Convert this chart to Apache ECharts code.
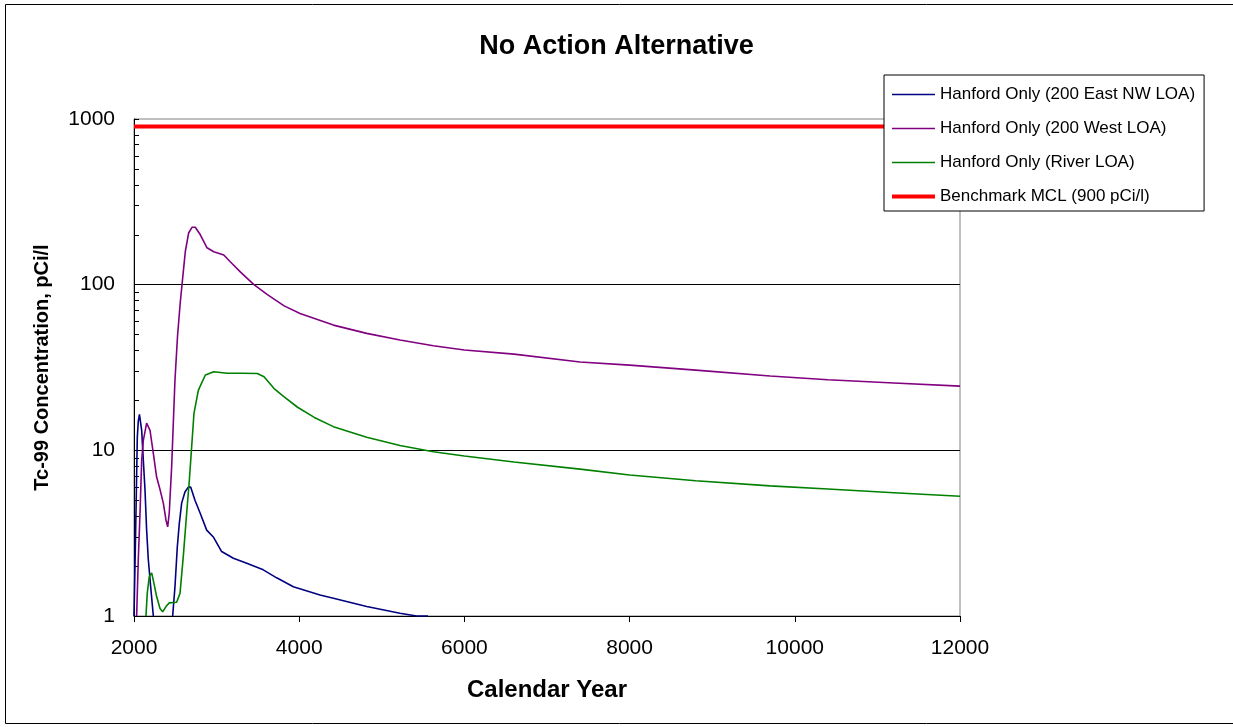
<!DOCTYPE html>
<html>
<head>
<meta charset="utf-8">
<script src="https://cdn.jsdelivr.net/npm/echarts@6/dist/echarts.min.js"></script>
<style>html,body{margin:0;padding:0;background:#fff;}#c{width:1233px;height:727px;}</style>
</head>
<body>
<div id="c"></div>
<script>
// ---- data ----
const seriesNames = ['Hanford Only (200 East NW LOA)', 'Hanford Only (200 West LOA)', 'Hanford Only (River LOA)', 'Benchmark MCL (900 pCi/l)'];

const eastYears = [2000, 2012, 2024, 2040, 2052, 2066, 2080, 2093, 2113, 2133, 2153, 2173, 2202, 2234, 2350, 2468, 2496, 2524, 2548, 2577, 2617, 2657, 2686, 2738, 2799, 2880, 2960, 3061, 3203, 3365, 3565, 3727, 3929, 4252, 4414, 4817, 5220, 5422, 5560];
const eastVals  = [1.0, 2.0, 4.2, 12, 15, 16.5, 16.5, 13.2, 8.7, 5.8, 3.3, 2.2, 1.5, 1.0, null, 1.0, 1.5, 2.6, 3.6, 4.8, 5.6, 6.0, 6.0, 5.0, 4.2, 3.3, 3.0, 2.45, 2.23, 2.08, 1.9, 1.7, 1.5, 1.34, 1.28, 1.14, 1.04, 1.0, 1.0];

const westYears = [2032, 2052, 2073, 2093, 2113, 2153, 2194, 2234, 2274, 2315, 2355, 2387, 2408, 2427, 2456, 2476, 2496, 2527, 2560, 2588, 2621, 2661, 2702, 2742, 2803, 2884, 2966, 3087, 3168, 3290, 3452, 3615, 3818, 4010, 4414, 4817, 5220, 5624, 6000, 6600, 7400, 8000, 8800, 9700, 10400, 11200, 12000];
const westVals  = [1.0, 2.2, 4.2, 8.7, 11.5, 14.6, 13.2, 9.6, 6.9, 5.8, 4.8, 3.8, 3.45, 4.2, 8.0, 14.6, 26.6, 49, 78, 108, 158, 205, 222, 222, 200, 167, 158, 151, 137, 119, 100, 87, 74.5, 67, 57, 50.8, 46.3, 42.8, 40.3, 38.1, 34.1, 32.7, 30.5, 28.1, 26.7, 25.5, 24.4];

const riverYears = [2145, 2161, 2185, 2214, 2242, 2274, 2315, 2347, 2387, 2427, 2516, 2557, 2597, 2638, 2670, 2698, 2726, 2779, 2803, 2864, 2966, 3128, 3300, 3493, 3574, 3696, 3818, 3980, 4183, 4414, 4817, 5220, 5624, 6000, 6600, 7400, 8000, 8800, 9700, 10400, 11200, 12000];
const riverVals  = [1.0, 1.38, 1.73, 1.82, 1.57, 1.31, 1.11, 1.06, 1.14, 1.2, 1.21, 1.37, 2.3, 4.2, 6.6, 10.5, 16.7, 23, 24.5, 28.5, 29.8, 29.2, 29.2, 29.1, 27.8, 23.6, 21, 18.2, 15.8, 13.9, 12.0, 10.7, 9.8, 9.25, 8.5, 7.7, 7.1, 6.55, 6.1, 5.84, 5.55, 5.28];

const mclYears = [2000, 12000];
const mclVals  = [900, 900];

const xTicks = { min: 2000, max: 12000, interval: 2000 };
const yMinorTicks = [2,3,4,5,6,7,8,9,20,30,40,50,60,70,80,90,200,300,400,500,600,700,800,900];

function zip(xs, ys) { return xs.map((x, i) => [x, ys[i]]); }

const FONT = 'Liberation Sans, Arial, sans-serif';
const chart = echarts.init(document.getElementById('c'), null, { renderer: 'canvas' });

chart.setOption({
  backgroundColor: '#fff',
  animation: false,
  textStyle: { fontFamily: FONT, color: '#000' },
  title: {
    text: 'No Action Alternative',
    left: 'center', top: 28,
    textStyle: { fontFamily: FONT, fontSize: 27, fontWeight: 'bold', color: '#000' }
  },
  legend: {
    orient: 'vertical',
    left: 884, top: 75, z: 20,
    padding: [11, 9, 6, 6],
    itemWidth: 43, itemHeight: 14, itemGap: 17,
    backgroundColor: '#fff',
    borderColor: '#000', borderWidth: 1,
    itemStyle: { opacity: 0 },
    textStyle: { fontFamily: FONT, fontSize: 17, color: '#000' },
    data: [
      { name: seriesNames[0], lineStyle: { width: 1.6 } },
      { name: seriesNames[1], lineStyle: { width: 1.6 } },
      { name: seriesNames[2], lineStyle: { width: 1.6 } },
      { name: seriesNames[3], lineStyle: { width: 4 } }
    ]
  },
  grid: {
    left: 134, right: 273, top: 119, bottom: 111,
    show: true, borderColor: '#808080', borderWidth: 1, backgroundColor: '#fff'
  },
  xAxis: {
    type: 'value', min: xTicks.min, max: xTicks.max, interval: xTicks.interval,
    name: 'Calendar Year', nameLocation: 'middle', nameGap: 62,
    nameTextStyle: { fontFamily: FONT, fontSize: 24, fontWeight: 'bold', color: '#000' },
    axisLine: { show: true, lineStyle: { color: '#000', width: 1 } },
    axisTick: { show: true, inside: false, length: 6, lineStyle: { color: '#000' } },
    axisLabel: { fontFamily: FONT, fontSize: 21, color: '#000', margin: 22, formatter: v => String(v) },
    splitLine: { show: false }
  },
  yAxis: [{
    type: 'log', logBase: 10, min: 1, max: 1000,
    name: 'Tc-99 Concentration, pCi/l', nameLocation: 'middle', nameGap: 82,
    nameTextStyle: { fontFamily: FONT, fontSize: 20, fontWeight: 'bold', color: '#000' },
    axisLine: { show: true, lineStyle: { color: '#000', width: 1 } },
    axisTick: { show: true, inside: true, length: 5, lineStyle: { color: '#000' } },
    axisLabel: { fontFamily: FONT, fontSize: 21, color: '#000', margin: 19, formatter: v => String(v) },
    splitLine: { show: true, showMaxLine: false, showMinLine: false, lineStyle: { color: '#000', width: 1 } }
  }, {
    type: 'log', logBase: 10, min: 1, max: 1000, position: 'left',
    axisLine: { show: false },
    axisLabel: { show: false },
    splitLine: { show: false },
    axisTick: { show: true, inside: true, length: 5, customValues: yMinorTicks, lineStyle: { color: '#000' } }
  }],
  series: [
    { name: seriesNames[0], type: 'line', data: zip(eastYears, eastVals), showSymbol: false, symbol: 'none',
      connectNulls: false, lineStyle: { color: '#000080', width: 1.6 }, itemStyle: { color: '#000080' } },
    { name: seriesNames[1], type: 'line', data: zip(westYears, westVals), showSymbol: false, symbol: 'none',
      lineStyle: { color: '#800080', width: 1.6 }, itemStyle: { color: '#800080' } },
    { name: seriesNames[2], type: 'line', data: zip(riverYears, riverVals), showSymbol: false, symbol: 'none',
      lineStyle: { color: '#008000', width: 1.6 }, itemStyle: { color: '#008000' } },
    { name: seriesNames[3], type: 'line', data: zip(mclYears, mclVals), showSymbol: false, symbol: 'none',
      lineStyle: { color: '#FF0000', width: 4 }, itemStyle: { color: '#FF0000' } }
  ],
  graphic: [{
    type: 'rect', left: 3, top: 2, z: 100, silent: true,
    shape: { width: 1228, height: 719 },
    style: { fill: null, stroke: '#000', lineWidth: 1 }
  }]
});
</script>
</body>
</html>
